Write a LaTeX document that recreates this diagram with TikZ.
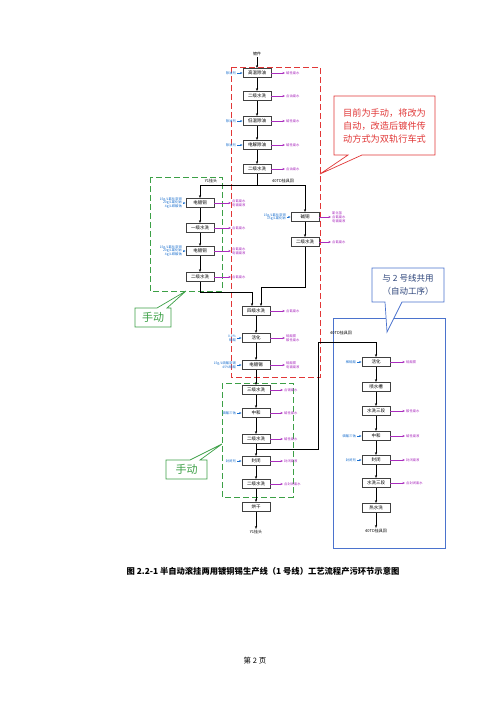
\documentclass[tikz,border=0pt]{standalone}
\usepackage{fontspec}
\setmainfont{Noto Sans CJK SC}
\usetikzlibrary{arrows.meta}
\definecolor{inblue}{RGB}{25,110,205}
\definecolor{outpurple}{RGB}{170,45,190}
\definecolor{redline}{RGB}{225,55,55}
\definecolor{greenline}{RGB}{60,160,70}
\definecolor{blueline}{RGB}{75,115,205}

\begin{document}
\begin{tikzpicture}[x=1pt, y=-1pt,
	box/.style={draw=black!75, line width=0.8pt, fill=white, minimum width=28, minimum height=9, inner sep=0.5pt, font=\fontsize{4.5}{5}\selectfont},
	intext/.style={text=inblue, anchor=east, align=right, inner sep=1pt, font=\fontsize{3.3}{3.9}\selectfont},
	outtext/.style={text=outpurple, anchor=west, align=left, inner sep=1pt, font=\fontsize{3.3}{3.9}\selectfont},
	lbl/.style={inner sep=1pt, font=\fontsize{4}{5}\selectfont},
	flow/.style={line width=0.6pt, -{Stealth[length=3pt,width=2.2pt]}},
	link/.style={line width=0.6pt},
	inarr/.style={draw=inblue, line width=0.5pt, -{Stealth[length=2.5pt,width=2pt]}},
	outarr/.style={draw=outpurple, line width=0.5pt, -{Stealth[length=2.5pt,width=2pt]}},
	dashframe/.style={line width=1pt, dash pattern=on 6pt off 3pt}]
	\useasboundingbox (0,0) rectangle (500,707);

	% Frames
	\draw[dashframe, redline] (231,67) rectangle (320,377);
	\draw[dashframe, greenline] (150,177) rectangle (222,291);
	\draw[dashframe, greenline] (222,383) rectangle (293,497);
	\draw[blueline, line width=0.9pt] (333,318) rectangle (445,548);

	% Main line
	\node[lbl] (t0) at (257,54) {镀件};
	\node[box] (b1) at (257,73) {高温除油};
	\node[box] (b2) at (257,96) {二级水洗};
	\node[box] (b3) at (257,121) {低温除油};
	\node[box] (b4) at (257,145) {电解除油};
	\node[box] (b5) at (257,169) {二级水洗};
	\node[intext] (i1) at (237,73) {除油剂};
	\node[intext] (i3) at (237,121) {除油剂};
	\node[intext] (i4) at (237,145) {除油剂};
	\node[outtext] (o1) at (285,73) {碱性废水};
	\node[outtext] (o2) at (285,96) {含油废水};
	\node[outtext] (o3) at (285,121) {碱性废水};
	\node[outtext] (o4) at (285,145) {碱性废水};
	\node[outtext] (o5) at (285,169) {含油废水};
	\coordinate (sp) at (257,185);
	\node[lbl] (y1) at (211,181) {Y1挂头};
	\node[lbl] (td1) at (283,181) {40TD挂具回};

	% Left branch
	\node[box] (L1) at (200,203) {电镀铜};
	\node[box] (L2) at (200,228) {一级水洗};
	\node[box] (L3) at (200,251) {电镀铜};
	\node[box] (L4) at (200,277) {二级水洗};
	\node[intext] (iL1) at (183,203) {15g/L氰化亚铜\\20g/L氰化钠\\4g/L碳酸钠};
	\node[intext] (iL3) at (183,251) {15g/L氰化亚铜\\20g/L氰化钠\\4g/L碳酸钠};
	\node[outtext] (oL1) at (231,203) {含氰废水\\电镀废液};
	\node[outtext] (oL2) at (231,228) {含氰废水};
	\node[outtext] (oL3) at (231,251) {含氰废水\\电镀废液};
	\node[outtext] (oL4) at (231,277) {含氰废水};

	% Right branch
	\node[box] (R1) at (305,217) {碱铜};
	\node[box] (R2) at (305,242) {二级水洗};
	\node[intext] (iR1) at (287,217) {15g/L氰化亚铜\\15g/L氰化钠};
	\node[outtext] (oR1) at (331,217) {氰化氢\\含氰废水\\电镀废液};
	\node[outtext] (oR2) at (331,242) {含氰废水};

	% Tin line
	\node[box] (M1) at (256,311) {四级水洗};
	\node[box] (M2) at (256,338) {活化};
	\node[box] (M3) at (256,365) {电镀锡};
	\node[intext] (iM2) at (237,338) {0.2\%\\硫酸};
	\node[intext] (iM3) at (237,365) {15g/L硫酸亚锡\\45\%硫酸};
	\node[outtext] (oM1) at (285,311) {含氰废水};
	\node[outtext] (oM2) at (285,338) {硫酸雾\\酸性废水};
	\node[outtext] (oM3) at (285,365) {硫酸雾\\电镀废液};
	\node[box] (B1) at (256,390) {三级水洗};
	\node[box] (B2) at (256,413) {中和};
	\node[box] (B3) at (256,439) {二级水洗};
	\node[box] (B4) at (256,461) {封闭};
	\node[box] (B5) at (256,484) {二级水洗};
	\node[box] (B6) at (256,507) {烘干};
	\node[lbl] (y2) at (256,532) {Y1挂头};
	\node[intext] (iB2) at (237,413) {磷酸三钠};
	\node[intext] (iB4) at (237,461) {封闭剂};
	\node[outtext] (oB1) at (283,390) {含锡废水};
	\node[outtext] (oB2) at (283,413) {碱性废水};
	\node[outtext] (oB3) at (283,439) {碱性废水};
	\node[outtext] (oB4) at (283,461) {封闭废液};
	\node[outtext] (oB5) at (283,484) {含封闭废水};
	\coordinate (c1) at (318,342);
	\coordinate (c2) at (256,449);
	\node[lbl] (td2) at (341,333) {40TD挂具回};

	% Automatic line
	\node[box] (N1) at (376,362) {活化};
	\node[box] (N2) at (376,387) {喷水槽};
	\node[box] (N3) at (376,411) {水洗三段};
	\node[box] (N4) at (376,436) {中和};
	\node[box] (N5) at (376,460) {封闭};
	\node[box] (N6) at (376,483) {水洗三段};
	\node[box] (N7) at (376,508) {热水洗};
	\node[lbl] (td3) at (376,531) {40TD挂具回};
	\node[intext] (iN1) at (357,362) {稀硫酸};
	\node[intext] (iN4) at (357,436) {磷酸三钠};
	\node[intext] (iN5) at (357,460) {封闭剂};
	\node[outtext] (oN1) at (405,362) {硫酸雾};
	\node[outtext] (oN3) at (405,411) {酸性废水};
	\node[outtext] (oN4) at (405,436) {碱性废液};
	\node[outtext] (oN5) at (405,460) {封闭废液};
	\node[outtext] (oN6) at (405,483) {含封闭废水};

	% Edges
	\draw[flow] (t0) -- (b1);
	\draw[flow] (b1) -- (b2);
	\draw[flow] (b2) -- (b3);
	\draw[flow] (b3) -- (b4);
	\draw[flow] (b4) -- (b5);
	\draw[link] (b5) -- (sp);
	\draw[flow] (sp) -| (L1);
	\draw[flow] (sp) -| (R1);
	\draw[flow] (L1) -- (L2);
	\draw[flow] (L2) -- (L3);
	\draw[flow] (L3) -- (L4);
	\draw[flow] (R1) -- (R2);
	\draw[flow] (L4.south) |- (252,292) -- (M1.north -| 252,0);
	\draw[flow] (R2.south) |- (261,287) -- (M1.north -| 261,0);
	\draw[flow] (M1) -- (M2);
	\draw[flow] (M2) -- (M3);
	\draw[flow] (M3) -- (B1);
	\draw[flow] (B1) -- (B2);
	\draw[flow] (B2) -- (B3);
	\draw[flow] (B3) -- (B4);
	\draw[flow] (B4) -- (B5);
	\draw[flow] (B5) -- (B6);
	\draw[flow] (B6) -- (y2);
	\draw[link] (c2) -| (c1);
	\draw[flow] (c1) -| (N1);
	\draw[flow] (N1) -- (N2);
	\draw[flow] (N2) -- (N3);
	\draw[flow] (N3) -- (N4);
	\draw[flow] (N4) -- (N5);
	\draw[flow] (N5) -- (N6);
	\draw[flow] (N6) -- (N7);
	\draw[flow] (N7) -- (td3);
	\foreach \a/\b in {i1/b1, i3/b3, i4/b4, iL1/L1, iL3/L3, iR1/R1, iM2/M2, iM3/M3, iB2/B2, iB4/B4, iN1/N1, iN4/N4, iN5/N5}
		\draw[inarr] (\a) -- (\b);
	\foreach \a/\b in {b1/o1, b2/o2, b3/o3, b4/o4, b5/o5, L1/oL1, L2/oL2, L3/oL3, L4/oL4, R1/oR1, R2/oR2, M1/oM1, M2/oM2, M3/oM3, B1/oB1, B2/oB2, B3/oB3, B4/oB4, B5/oB5, N1/oN1, N3/oN3, N4/oN4, N5/oN5, N6/oN6}
		\draw[outarr] (\a) -- (\b);

	% Callouts
	\draw[redline, line width=0.7pt, fill=white] (334,96) -- (435,96) -- (435,155) -- (362,155) -- (320,174) -- (348,155) -- (334,155) -- cycle;
	\node[text=redline, align=left, font=\fontsize{9.2}{13}\selectfont] (note1) at (384.5,125.5) {目前为手动，将改为\\自动，改造后镀件传\\动方式为双轨行车式};
	\draw[greenline, line width=0.7pt, fill=white] (135,308) -- (157,308) -- (186,291) -- (167,308) -- (171,308) -- (171,327) -- (135,327) -- cycle;
	\node[text=greenline, font=\fontsize{11}{12}\selectfont] (note2) at (153,317.5) {手动};
	\draw[greenline, line width=0.7pt, fill=white] (166,460) -- (190,460) -- (222,444) -- (200,460) -- (207,460) -- (207,479) -- (166,479) -- cycle;
	\node[text=greenline, font=\fontsize{11}{12}\selectfont] (note3) at (186.5,469.5) {手动};
	\draw[blueline, line width=0.7pt, fill=white] (372,268) -- (444,268) -- (444,302) -- (402,302) -- (387,332) -- (385,302) -- (372,302) -- cycle;
	\node[text=blueline!60!black, align=center, font=\fontsize{8.5}{12.5}\selectfont] (note4) at (408,285) {与 2 号线共用\\（自动工序）};

	% Caption
	\node[font=\bfseries\fontsize{8.3}{10}\selectfont] (cap) at (263,571) {图 2.2-1 半自动滚挂两用镀铜锡生产线（1 号线）工艺流程产污环节示意图};
	\node[font=\fontsize{7.5}{9}\selectfont] (page) at (255,661) {第 2 页};
\end{tikzpicture}
\end{document}
